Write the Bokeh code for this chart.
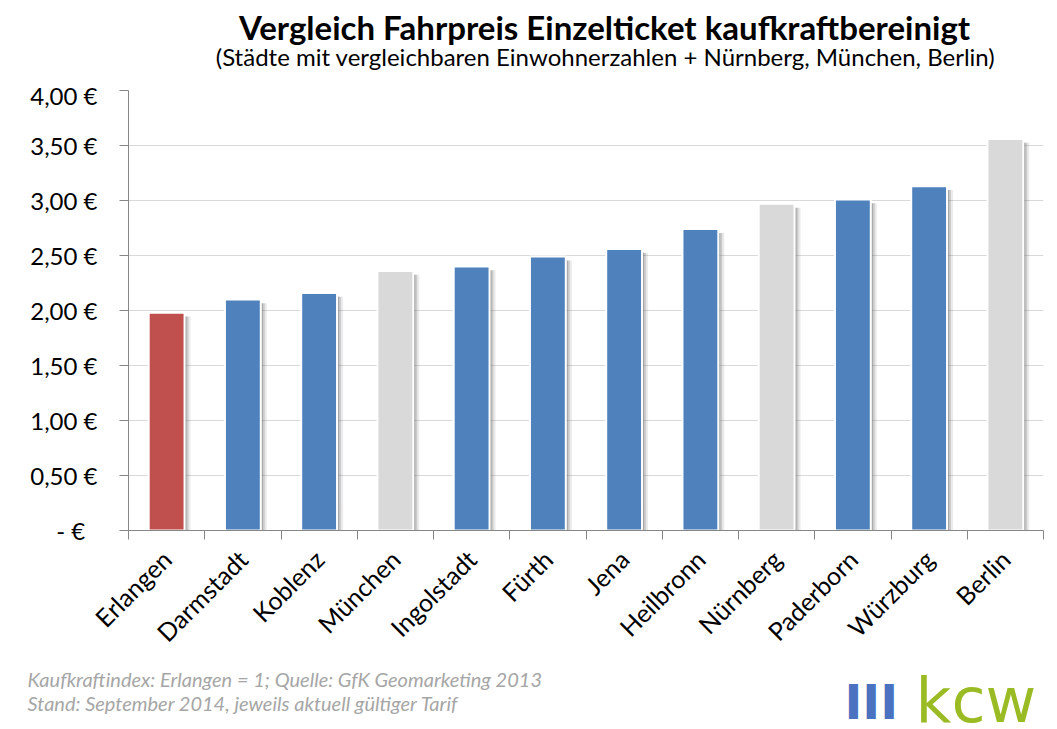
from bokeh.plotting import figure
from bokeh.models import ColumnDataSource, Range1d, FixedTicker
from bokeh.layouts import column, row
from bokeh.core.properties import value
from bokeh.embed import file_html
from bokeh.resources import INLINE

# ---- data ----
cities = ["Erlangen", "Darmstadt", "Koblenz", "München", "Ingolstadt", "Fürth",
          "Jena", "Heilbronn", "Nürnberg", "Paderborn", "Würzburg", "Berlin"]
prices = [1.98, 2.10, 2.16, 2.36, 2.40, 2.49, 2.56, 2.74, 2.97, 3.01, 3.13, 3.56]
groups = ["home", "peer", "peer", "big", "peer", "peer",
          "peer", "peer", "big", "peer", "peer", "big"]
group_colors = {"home": "#C0504D", "peer": "#4F81BD", "big": "#D9D9D9"}
y_ticks = [0, 0.5, 1.0, 1.5, 2.0, 2.5, 3.0, 3.5, 4.0]
y_tick_labels = ["-   €", "0,50 €", "1,00 €", "1,50 €", "2,00 €",
                 "2,50 €", "3,00 €", "3,50 €", "4,00 €"]
title_text = "Vergleich Fahrpreis Einzelticket kaufkraftbereinigt"
subtitle_text = "(Städte mit vergleichbaren Einwohnerzahlen + Nürnberg, München, Berlin)"
footer_1 = "Kaufkraftindex: Erlangen = 1; Quelle: GfK Geomarketing 2013"
footer_2 = "Stand: September 2014, jeweils aktuell gültiger Tarif"

FONT = "Lato"
W = 1057
H_HEAD, H_MAIN, H_FOOT = 80, 580, 69


def blank(height):
    f = figure(width=W, height=height, output_backend="svg", toolbar_location=None,
               x_range=Range1d(0, W), y_range=Range1d(0, height),
               min_border_left=0, min_border_right=0, min_border_top=0,
               min_border_bottom=0, x_axis_location=None, y_axis_location=None)
    f.grid.visible = False
    f.outline_line_color = None
    return f


# ---- header ----
head = blank(H_HEAD)
head.text(x=[604], y=[54], text=[title_text], text_font=value(FONT),
          text_font_style="bold", text_font_size="33px", text_align="center",
          text_baseline="alphabetic", text_color="#000000")
head.text(x=[605], y=[24], text=[subtitle_text], text_font=value(FONT),
          text_font_size="24px", text_align="center",
          text_baseline="alphabetic", text_color="#000000")

# ---- main chart ----
xs = [i + 0.5 for i in range(len(cities))]
src = ColumnDataSource(dict(x=xs, top=prices, color=[group_colors[g] for g in groups]))

p = figure(width=W, height=H_MAIN, output_backend="svg", toolbar_location=None,
           x_range=Range1d(0, len(cities)), y_range=Range1d(0, 4),
           min_border_left=128, min_border_right=14, min_border_top=10,
           min_border_bottom=129)
p.outline_line_color = None
p.xgrid.grid_line_color = None
p.ygrid.grid_line_color = "#D9D9D9"
p.ygrid.ticker = FixedTicker(ticks=y_ticks)

# soft shadow to the right of each bar
for dx, a in [(0.079, 0.12), (0.052, 0.22), (0.026, 0.35)]:
    p.vbar(x=[v + dx for v in xs], top=[t - 0.035 for t in prices], bottom=0,
           width=0.47, fill_color="#595959", fill_alpha=a, line_color=None)
p.vbar(x="x", top="top", bottom=0, width=0.47, source=src, fill_color="color",
       line_color="white", line_width=2)

p.yaxis.ticker = FixedTicker(ticks=y_ticks)
p.yaxis.major_label_overrides = {t: l for t, l in zip(y_ticks, y_tick_labels)}
p.yaxis.axis_line_color = "#868686"
p.yaxis.major_tick_line_color = "#868686"
p.yaxis.major_tick_out = 9
p.yaxis.major_tick_in = 0
p.yaxis.minor_tick_line_color = None
p.yaxis.major_label_text_font = FONT
p.yaxis.major_label_text_font_size = "24px"
p.yaxis.major_label_text_color = "#000000"
p.yaxis.major_label_standoff = 22

p.xaxis.ticker = FixedTicker(ticks=xs, minor_ticks=list(range(len(cities) + 1)))
p.xaxis.major_label_overrides = {x: c for x, c in zip(xs, cities)}
p.xaxis.axis_line_color = "#868686"
p.xaxis.major_tick_line_color = None
p.xaxis.minor_tick_line_color = "#868686"
p.xaxis.minor_tick_out = 9
p.xaxis.minor_tick_in = 0
p.xaxis.major_label_orientation = 0.785398
p.xaxis.major_label_text_font = FONT
p.xaxis.major_label_text_font_size = "25px"
p.xaxis.major_label_text_color = "#000000"
p.xaxis.major_label_standoff = 15

# ---- footer ----
foot = blank(H_FOOT)
foot.text(x=[27, 27], y=[51, 27], text=[footer_1, footer_2], text_font=value(FONT),
          text_font_style="italic", text_font_size="20px",
          text_baseline="alphabetic", text_color="#A6A6A6")
foot.text(x=[844], y=[28], text=["III"], text_font=value("DejaVu Sans"),
          text_font_style="bold", text_font_size="48px",
          text_baseline="alphabetic", text_color="#4A72C0")
foot.text(x=[915], y=[29], text=["kcw"], text_font=value("DejaVu Sans"),
          text_font_size="62px", text_baseline="alphabetic", text_color="#9BBB24")

layout = column(row(head), p, row(foot), spacing=0)
open("out.html", "w").write(file_html(layout, INLINE))
